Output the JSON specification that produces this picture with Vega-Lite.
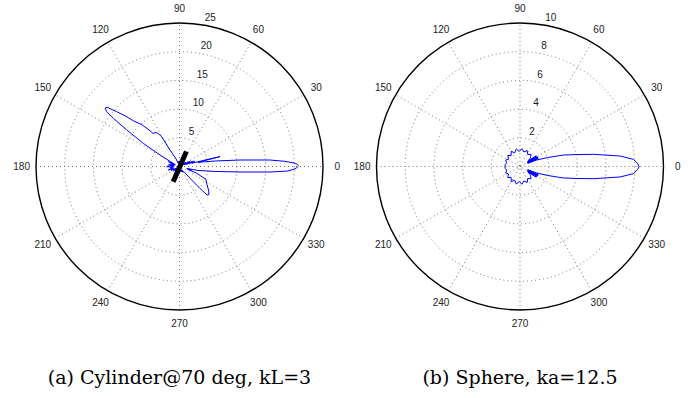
{
  "$schema": "https://vega.github.io/schema/vega-lite/v6.json",
  "padding": 0,
  "spacing": 0,
  "bounds": "flush",
  "background": "white",
  "resolve": {"scale": {"size": "independent"}},
  "config": {"view": {"stroke": null}},
  "datasets": {
    "ringsA": [{"r": 5}, {"r": 10}, {"r": 15}, {"r": 20}],
    "outerA": [{"r": 25}],
    "ringsB": [{"r": 2}, {"r": 4}, {"r": 6}, {"r": 8}],
    "outerB": [{"r": 10}],
    "spokesA": [
      {"x": -25, "y": 0, "x2": 25, "y2": 0},
      {"x": -21.651, "y": -12.5, "x2": 21.651, "y2": 12.5},
      {"x": -12.5, "y": -21.651, "x2": 12.5, "y2": 21.651},
      {"x": 0, "y": -25, "x2": 0, "y2": 25},
      {"x": 12.5, "y": -21.651, "x2": -12.5, "y2": 21.651},
      {"x": 21.651, "y": -12.5, "x2": -21.651, "y2": 12.5}
    ],
    "spokesB": [
      {"x": -10, "y": 0, "x2": 10, "y2": 0},
      {"x": -8.66, "y": -5, "x2": 8.66, "y2": 5},
      {"x": -5, "y": -8.66, "x2": 5, "y2": 8.66},
      {"x": 0, "y": -10, "x2": 0, "y2": 10},
      {"x": 5, "y": -8.66, "x2": -5, "y2": 8.66},
      {"x": 8.66, "y": -5, "x2": -8.66, "y2": 5}
    ],
    "anglesA": [
      {"label": "0", "x": 27.5, "y": 0},
      {"label": "30", "x": 23.816, "y": 13.75},
      {"label": "60", "x": 13.75, "y": 23.816},
      {"label": "90", "x": 0, "y": 27.5},
      {"label": "120", "x": -13.75, "y": 23.816},
      {"label": "150", "x": -23.816, "y": 13.75},
      {"label": "180", "x": -27.5, "y": 0},
      {"label": "210", "x": -23.816, "y": -13.75},
      {"label": "240", "x": -13.75, "y": -23.816},
      {"label": "270", "x": 0, "y": -27.5},
      {"label": "300", "x": 13.75, "y": -23.816},
      {"label": "330", "x": 23.816, "y": -13.75}
    ],
    "anglesB": [
      {"label": "0", "x": 11, "y": 0},
      {"label": "30", "x": 9.526, "y": 5.5},
      {"label": "60", "x": 5.5, "y": 9.526},
      {"label": "90", "x": 0, "y": 11},
      {"label": "120", "x": -5.5, "y": 9.526},
      {"label": "150", "x": -9.526, "y": 5.5},
      {"label": "180", "x": -11, "y": 0},
      {"label": "210", "x": -9.526, "y": -5.5},
      {"label": "240", "x": -5.5, "y": -9.526},
      {"label": "270", "x": 0, "y": -11},
      {"label": "300", "x": 5.5, "y": -9.526},
      {"label": "330", "x": 9.526, "y": -5.5}
    ],
    "radialA": [
      {"label": "5", "x": 0.7307, "y": 5.1989},
      {"label": "10", "x": 1.4265, "y": 10.1503},
      {"label": "15", "x": 2.1223, "y": 15.1016},
      {"label": "20", "x": 2.8182, "y": 20.053},
      {"label": "25", "x": 3.514, "y": 25.0043}
    ],
    "radialB": [
      {"label": "2", "x": 0.2923, "y": 2.0796},
      {"label": "4", "x": 0.5706, "y": 4.0601},
      {"label": "6", "x": 0.8489, "y": 6.0406},
      {"label": "8", "x": 1.1273, "y": 8.0212},
      {"label": "10", "x": 1.4056, "y": 10.0017}
    ],
    "cylinder": [{"x": 1.2, "y": 2.62, "x2": -1.1, "y2": -2.66}],
    "curveA": [
      {"i": 1, "x": 20.6, "y": 0}, {"i": 2, "x": 20.7, "y": 0.14}, {"i": 3, "x": 20.55, "y": 0.36},
      {"i": 4, "x": 19.95, "y": 0.61}, {"i": 5, "x": 18.38, "y": 0.9}, {"i": 6, "x": 15.76, "y": 1.13},
      {"i": 7, "x": 10.54, "y": 1.13}, {"i": 8, "x": 6.23, "y": 0.96}, {"i": 9, "x": 4.12, "y": 0.8},
      {"i": 10, "x": 3.22, "y": 0.7}, {"i": 11, "x": 4.67, "y": 1.1}, {"i": 12, "x": 7.05, "y": 1.72},
      {"i": 13, "x": 3.88, "y": 0.99}, {"i": 14, "x": 2.13, "y": 0.57}, {"i": 15, "x": 2.68, "y": 0.82},
      {"i": 16, "x": 1.13, "y": 0.39}, {"i": 17, "x": 2.43, "y": 0.93}, {"i": 18, "x": 0.83, "y": 0.35},
      {"i": 19, "x": 1.8, "y": 0.88}, {"i": 20, "x": 0.52, "y": 0.29}, {"i": 21, "x": 1.09, "y": 0.71},
      {"i": 22, "x": 0.32, "y": 0.24}, {"i": 23, "x": 0.74, "y": 0.67}, {"i": 24, "x": 0.34, "y": 0.37},
      {"i": 25, "x": 0.55, "y": 0.71}, {"i": 26, "x": 0.21, "y": 0.34}, {"i": 27, "x": 0.35, "y": 0.72},
      {"i": 28, "x": 0.17, "y": 0.47}, {"i": 29, "x": 0.22, "y": 0.87}, {"i": 30, "x": 0.06, "y": 0.4},
      {"i": 31, "x": 0.03, "y": 0.8}, {"i": 32, "x": -0.03, "y": 0.5}, {"i": 33, "x": -0.16, "y": 0.89},
      {"i": 34, "x": -0.14, "y": 0.48}, {"i": 35, "x": -0.21, "y": 0.56}, {"i": 36, "x": -0.57, "y": 1.28},
      {"i": 37, "x": -1.13, "y": 2.12}, {"i": 38, "x": -1.66, "y": 2.87}, {"i": 39, "x": -3.11, "y": 5.19},
      {"i": 40, "x": -3.76, "y": 5.79}, {"i": 41, "x": -4.27, "y": 5.92}, {"i": 42, "x": -4.62, "y": 5.75},
      {"i": 43, "x": -5.14, "y": 6.24}, {"i": 44, "x": -6.56, "y": 7.28}, {"i": 45, "x": -8.06, "y": 7.98},
      {"i": 46, "x": -9.43, "y": 8.8}, {"i": 47, "x": -10.94, "y": 9.55}, {"i": 48, "x": -12.59, "y": 10.31},
      {"i": 49, "x": -12.91, "y": 10.2}, {"i": 50, "x": -12.85, "y": 9.86}, {"i": 51, "x": -12.67, "y": 9.55},
      {"i": 52, "x": -11.53, "y": 8.4}, {"i": 53, "x": -9.19, "y": 6.36}, {"i": 54, "x": -6.31, "y": 4.04},
      {"i": 55, "x": -3.39, "y": 2.0}, {"i": 56, "x": -1.59, "y": 0.85}, {"i": 57, "x": -0.91, "y": 0.42},
      {"i": 58, "x": -1.93, "y": 0.82}, {"i": 59, "x": -0.75, "y": 0.29}, {"i": 60, "x": -1.53, "y": 0.47},
      {"i": 61, "x": -1.08, "y": 0.26}, {"i": 62, "x": -1.87, "y": 0.33}, {"i": 63, "x": -0.89, "y": 0.11},
      {"i": 64, "x": -2.0, "y": 0.1}, {"i": 65, "x": -2.23, "y": -0.04}, {"i": 66, "x": -1.0, "y": -0.07},
      {"i": 67, "x": -1.68, "y": -0.24}, {"i": 68, "x": -1.17, "y": -0.25}, {"i": 69, "x": -1.95, "y": -0.6},
      {"i": 70, "x": -0.93, "y": -0.36}, {"i": 71, "x": -1.45, "y": -0.68}, {"i": 72, "x": -0.61, "y": -0.35},
      {"i": 73, "x": -1.06, "y": -0.75}, {"i": 74, "x": -0.46, "y": -0.39}, {"i": 75, "x": -0.69, "y": -0.72},
      {"i": 76, "x": -0.31, "y": -0.39}, {"i": 77, "x": -0.42, "y": -0.68}, {"i": 78, "x": -0.18, "y": -0.36},
      {"i": 79, "x": -0.24, "y": -0.66}, {"i": 80, "x": -0.1, "y": -0.39}, {"i": 81, "x": -0.11, "y": -0.79},
      {"i": 82, "x": -0.02, "y": -0.5}, {"i": 83, "x": 0.06, "y": -0.9}, {"i": 84, "x": 0.09, "y": -0.49},
      {"i": 85, "x": 0.28, "y": -0.96}, {"i": 86, "x": 0.22, "y": -0.56}, {"i": 87, "x": 0.52, "y": -0.97},
      {"i": 88, "x": 0.39, "y": -0.58}, {"i": 89, "x": 0.74, "y": -0.95}, {"i": 90, "x": 0.78, "y": -0.91},
      {"i": 91, "x": 2.14, "y": -2.38}, {"i": 92, "x": 3.55, "y": -3.8}, {"i": 93, "x": 4.79, "y": -4.96},
      {"i": 94, "x": 5.02, "y": -4.97}, {"i": 95, "x": 5.13, "y": -4.62}, {"i": 96, "x": 5.05, "y": -4.09},
      {"i": 97, "x": 4.78, "y": -3.1}, {"i": 98, "x": 4.59, "y": -2.22}, {"i": 99, "x": 2.98, "y": -1.17},
      {"i": 100, "x": 1.42, "y": -0.49}, {"i": 101, "x": 2.1, "y": -0.64}, {"i": 102, "x": 1.26, "y": -0.34},
      {"i": 103, "x": 3.23, "y": -0.69}, {"i": 104, "x": 6.14, "y": -0.86}, {"i": 105, "x": 10.56, "y": -0.96},
      {"i": 106, "x": 15.77, "y": -0.96}, {"i": 107, "x": 18.88, "y": -0.79}, {"i": 108, "x": 20.3, "y": -0.35},
      {"i": 109, "x": 20.6, "y": 0}
    ],
    "curveB": [
      {"i": 1, "x": 8.3, "y": 0}, {"i": 2, "x": 8.2, "y": 0.21}, {"i": 3, "x": 7.9, "y": 0.5},
      {"i": 4, "x": 6.97, "y": 0.73}, {"i": 5, "x": 5.11, "y": 0.85}, {"i": 6, "x": 3.91, "y": 0.83},
      {"i": 7, "x": 3.02, "y": 0.8}, {"i": 8, "x": 1.9, "y": 0.62}, {"i": 9, "x": 1.16, "y": 0.45},
      {"i": 10, "x": 0.55, "y": 0.23}, {"i": 11, "x": 1.28, "y": 0.57}, {"i": 12, "x": 0.54, "y": 0.26},
      {"i": 13, "x": 1.25, "y": 0.64}, {"i": 14, "x": 0.53, "y": 0.29}, {"i": 15, "x": 1.2, "y": 0.69},
      {"i": 16, "x": 0.51, "y": 0.31}, {"i": 17, "x": 1.13, "y": 0.74}, {"i": 18, "x": 0.57, "y": 0.4},
      {"i": 19, "x": 0.73, "y": 0.61}, {"i": 20, "x": 0.77, "y": 0.85}, {"i": 21, "x": 0.54, "y": 0.84},
      {"i": 22, "x": 0.5, "y": 1.11}, {"i": 23, "x": 0.27, "y": 1.01}, {"i": 24, "x": 0.13, "y": 1.24},
      {"i": 25, "x": -0.05, "y": 1.05}, {"i": 26, "x": -0.26, "y": 1.22}, {"i": 27, "x": -0.37, "y": 0.95},
      {"i": 28, "x": -0.61, "y": 1.06}, {"i": 29, "x": -0.62, "y": 0.76}, {"i": 30, "x": -0.85, "y": 0.77},
      {"i": 31, "x": -0.8, "y": 0.52}, {"i": 32, "x": -1.0, "y": 0.45}, {"i": 33, "x": -0.92, "y": 0.25},
      {"i": 34, "x": -1.07, "y": 0.11}, {"i": 35, "x": -0.98, "y": 0}, {"i": 36, "x": -1.07, "y": -0.11},
      {"i": 37, "x": -0.92, "y": -0.25}, {"i": 38, "x": -1.0, "y": -0.45}, {"i": 39, "x": -0.8, "y": -0.52},
      {"i": 40, "x": -0.85, "y": -0.77}, {"i": 41, "x": -0.62, "y": -0.76}, {"i": 42, "x": -0.61, "y": -1.06},
      {"i": 43, "x": -0.37, "y": -0.95}, {"i": 44, "x": -0.26, "y": -1.22}, {"i": 45, "x": -0.05, "y": -1.05},
      {"i": 46, "x": 0.13, "y": -1.24}, {"i": 47, "x": 0.27, "y": -1.01}, {"i": 48, "x": 0.5, "y": -1.11},
      {"i": 49, "x": 0.54, "y": -0.84}, {"i": 50, "x": 0.77, "y": -0.85}, {"i": 51, "x": 0.73, "y": -0.61},
      {"i": 52, "x": 0.57, "y": -0.4}, {"i": 53, "x": 1.13, "y": -0.74}, {"i": 54, "x": 0.51, "y": -0.31},
      {"i": 55, "x": 1.2, "y": -0.69}, {"i": 56, "x": 0.53, "y": -0.29}, {"i": 57, "x": 1.25, "y": -0.64},
      {"i": 58, "x": 0.54, "y": -0.26}, {"i": 59, "x": 1.28, "y": -0.57}, {"i": 60, "x": 0.55, "y": -0.23},
      {"i": 61, "x": 1.16, "y": -0.45}, {"i": 62, "x": 1.9, "y": -0.62}, {"i": 63, "x": 3.02, "y": -0.8},
      {"i": 64, "x": 3.91, "y": -0.83}, {"i": 65, "x": 5.11, "y": -0.85}, {"i": 66, "x": 6.97, "y": -0.73},
      {"i": 67, "x": 7.9, "y": -0.5}, {"i": 68, "x": 8.2, "y": -0.21}, {"i": 69, "x": 8.3, "y": 0}
    ]
  },
  "hconcat": [
    {
      "width": 359,
      "height": 333,
      "title": {"text": "(a) Cylinder@70 deg, kL=3", "orient": "bottom", "anchor": "middle", "offset": 36, "font": "DejaVu Serif", "fontSize": 19, "fontWeight": "normal", "color": "#000000"},
      "layer": [
        {
          "data": {"name": "ringsA"},
          "mark": {"type": "point", "shape": "circle", "filled": false, "stroke": "#737373", "strokeWidth": 1, "strokeDash": [1, 3], "opacity": 1},
          "encoding": {
            "x": {"datum": 0, "type": "quantitative", "scale": {"domain": [-31.272, 31.272], "nice": false, "zero": false}, "axis": null},
            "y": {"datum": 0, "type": "quantitative", "scale": {"domain": [-29.006, 29.006], "nice": false, "zero": false}, "axis": null},
            "size": {"field": "r", "type": "quantitative", "legend": null, "scale": {"type": "pow", "exponent": 2, "domain": [0, 25], "range": [0, 82369], "zero": true}}
          }
        },
        {
          "data": {"name": "spokesA"},
          "mark": {"type": "rule", "stroke": "#737373", "strokeWidth": 1, "strokeDash": [1, 3]},
          "encoding": {
            "x": {"field": "x", "type": "quantitative"},
            "y": {"field": "y", "type": "quantitative"},
            "x2": {"field": "x2"},
            "y2": {"field": "y2"}
          }
        },
        {
          "data": {"name": "outerA"},
          "mark": {"type": "point", "shape": "circle", "filled": false, "stroke": "#000000", "strokeWidth": 1.4, "opacity": 1},
          "encoding": {
            "x": {"datum": 0, "type": "quantitative"},
            "y": {"datum": 0, "type": "quantitative"},
            "size": {"field": "r", "type": "quantitative", "legend": null}
          }
        },
        {
          "data": {"name": "curveA"},
          "mark": {"type": "line", "stroke": "#0000ff", "strokeWidth": 1},
          "encoding": {
            "x": {"field": "x", "type": "quantitative"},
            "y": {"field": "y", "type": "quantitative"},
            "order": {"field": "i", "type": "quantitative"}
          }
        },
        {
          "data": {"name": "cylinder"},
          "mark": {"type": "rule", "stroke": "#000000", "strokeWidth": 5},
          "encoding": {
            "x": {"field": "x", "type": "quantitative"},
            "y": {"field": "y", "type": "quantitative"},
            "x2": {"field": "x2"},
            "y2": {"field": "y2"}
          }
        },
        {
          "data": {"name": "anglesA"},
          "mark": {"type": "text", "font": "Liberation Sans", "fontSize": 10, "fill": "#222222", "align": "center", "baseline": "middle"},
          "encoding": {
            "x": {"field": "x", "type": "quantitative"},
            "y": {"field": "y", "type": "quantitative"},
            "text": {"field": "label"}
          }
        },
        {
          "data": {"name": "radialA"},
          "mark": {"type": "text", "font": "Liberation Sans", "fontSize": 10, "fill": "#222222", "align": "left", "baseline": "bottom", "dx": 5},
          "encoding": {
            "x": {"field": "x", "type": "quantitative"},
            "y": {"field": "y", "type": "quantitative"},
            "text": {"field": "label"}
          }
        }
      ]
    },
    {
      "width": 322,
      "height": 333,
      "title": {"text": "(b) Sphere, ka=12.5", "orient": "bottom", "anchor": "middle", "offset": 36, "font": "DejaVu Serif", "fontSize": 19, "fontWeight": "normal", "color": "#000000"},
      "layer": [
        {
          "data": {"name": "ringsB"},
          "mark": {"type": "point", "shape": "circle", "filled": false, "stroke": "#737373", "strokeWidth": 1, "strokeDash": [1, 3], "opacity": 1},
          "encoding": {
            "x": {"datum": 0, "type": "quantitative", "scale": {"domain": [-11.2195, 11.2195], "nice": false, "zero": false}, "axis": null},
            "y": {"datum": 0, "type": "quantitative", "scale": {"domain": [-11.6028, 11.6028], "nice": false, "zero": false}, "axis": null},
            "size": {"field": "r", "type": "quantitative", "legend": null, "scale": {"type": "pow", "exponent": 2, "domain": [0, 10], "range": [0, 82369], "zero": true}}
          }
        },
        {
          "data": {"name": "spokesB"},
          "mark": {"type": "rule", "stroke": "#737373", "strokeWidth": 1, "strokeDash": [1, 3]},
          "encoding": {
            "x": {"field": "x", "type": "quantitative"},
            "y": {"field": "y", "type": "quantitative"},
            "x2": {"field": "x2"},
            "y2": {"field": "y2"}
          }
        },
        {
          "data": {"name": "outerB"},
          "mark": {"type": "point", "shape": "circle", "filled": false, "stroke": "#000000", "strokeWidth": 1.4, "opacity": 1},
          "encoding": {
            "x": {"datum": 0, "type": "quantitative"},
            "y": {"datum": 0, "type": "quantitative"},
            "size": {"field": "r", "type": "quantitative", "legend": null}
          }
        },
        {
          "data": {"name": "curveB"},
          "mark": {"type": "line", "stroke": "#0000ff", "strokeWidth": 1},
          "encoding": {
            "x": {"field": "x", "type": "quantitative"},
            "y": {"field": "y", "type": "quantitative"},
            "order": {"field": "i", "type": "quantitative"}
          }
        },
        {
          "data": {"name": "anglesB"},
          "mark": {"type": "text", "font": "Liberation Sans", "fontSize": 10, "fill": "#222222", "align": "center", "baseline": "middle"},
          "encoding": {
            "x": {"field": "x", "type": "quantitative"},
            "y": {"field": "y", "type": "quantitative"},
            "text": {"field": "label"}
          }
        },
        {
          "data": {"name": "radialB"},
          "mark": {"type": "text", "font": "Liberation Sans", "fontSize": 10, "fill": "#222222", "align": "left", "baseline": "bottom", "dx": 5},
          "encoding": {
            "x": {"field": "x", "type": "quantitative"},
            "y": {"field": "y", "type": "quantitative"},
            "text": {"field": "label"}
          }
        }
      ]
    }
  ]
}
